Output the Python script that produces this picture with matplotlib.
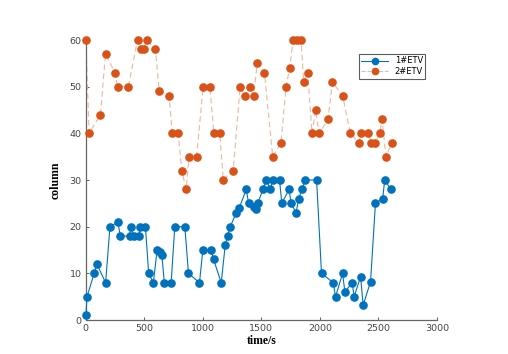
import numpy as np
import matplotlib
matplotlib.use("Agg")
import matplotlib.pyplot as plt

# 1#ETV series
t1 = [0, 10, 71, 94, 169, 206, 274, 294, 374, 383, 411, 451, 466, 509, 537, 577,
      609, 634, 649, 671, 729, 760, 846, 877, 971, 1000, 1071, 1091, 1157, 1191,
      1211, 1234, 1286, 1311, 1371, 1391, 1435, 1455, 1469, 1514, 1542, 1576,
      1599, 1655, 1675, 1737, 1754, 1797, 1819, 1847, 1876, 1972, 2014, 2114,
      2134, 2194, 2214, 2276, 2293, 2348, 2370, 2433, 2475, 2537, 2554, 2607]
v1 = [1, 5, 10, 12, 8, 20, 21, 18, 18, 20, 18, 18, 20, 20, 10, 8,
      15, 14.5, 14, 8, 8, 20, 20, 10, 8, 15, 15, 13, 8, 16,
      18, 20, 23, 24, 28, 25, 24.3, 23.8, 25, 28, 30, 28,
      30, 30, 25, 28, 25, 23, 26, 28, 30, 30, 10, 8,
      5, 10, 6, 8, 5, 9.3, 3.2, 8.2, 25, 26, 30, 28]

# 2#ETV series
t2 = [0, 28, 125, 168, 248, 271, 362, 442, 470, 495, 519, 595, 627, 712, 738,
      789, 820, 857, 883, 946, 1003, 1060, 1094, 1145, 1174, 1259, 1319, 1359,
      1400, 1434, 1465, 1526, 1597, 1668, 1711, 1742, 1771, 1805, 1839, 1862,
      1896, 1933, 1964, 1993, 2070, 2107, 2195, 2260, 2331, 2354, 2409, 2440,
      2474, 2511, 2531, 2565, 2616]
v2 = [60, 40, 44, 57, 53, 50, 50, 60, 58, 58, 60, 58, 49, 48, 40,
      40, 32, 28, 35, 35, 50, 50, 40, 40, 30, 32, 50, 48,
      50, 48, 55, 53, 35, 38, 50, 54, 60, 60, 60, 51,
      53, 40, 45, 40, 43, 51, 48, 40, 38, 40, 40, 38,
      38, 40, 43, 35, 38]

labels = ["1#ETV", "2#ETV"]
xticks = np.arange(0, 3001, 500)
yticks = np.arange(0, 61, 10)

fig = plt.figure(figsize=(5.08, 3.54), dpi=100)
ax = fig.add_axes([0.169, 0.096, 0.691, 0.791])

ax.plot(t1, v1, "-o", color="#0072BD", lw=0.8, ms=5.2, clip_on=False, zorder=3)
ax.plot(t2, v2, "--", color="#EBB8A2", lw=0.8, dashes=(5, 3), zorder=2)
ax.plot(t2, v2, "o", color="#D95319", ms=5.2, clip_on=False, zorder=3)

# legend proxies (smaller markers, like the reference)
ax.plot([], [], "-o", color="#0072BD", ms=4.5, lw=0.8, label=labels[0])
ax.plot([], [], "--o", color="#EBB8A2", mfc="#D95319", mec="#D95319", ms=4.5,
        lw=0.8, label=labels[1])

ax.set_xlim(0, 3000)
ax.set_ylim(0, 60)
ax.set_xticks(xticks)
ax.set_yticks(yticks)
ax.tick_params(direction="in", length=2.5, width=0.6, labelsize=6.8,
               colors="#444444", pad=3)
for s in ["top", "right"]:
    ax.spines[s].set_visible(False)
for s in ["left", "bottom"]:
    ax.spines[s].set_color("#666666")
    ax.spines[s].set_linewidth(0.9)

ax.set_xlabel("time/s", family="Liberation Serif", fontsize=8.5,
              fontweight="bold", labelpad=1)
ax.set_ylabel("column", family="Liberation Serif", fontsize=8.5,
              fontweight="bold", labelpad=6)

leg = ax.legend(loc="upper left", bbox_to_anchor=(0.766, 0.965), fontsize=6,
                frameon=True, fancybox=False, edgecolor="#333333",
                borderpad=0.3, handlelength=3.2, handletextpad=0.8,
                labelspacing=0.2)
leg.get_frame().set_linewidth(0.8)

fig.savefig("out.png", dpi=100)
